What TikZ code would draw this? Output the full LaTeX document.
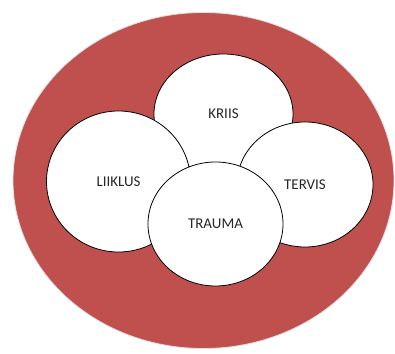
\documentclass[tikz,border=0pt]{standalone}
\usepackage{fontspec}
\setmainfont{Carlito}
\usetikzlibrary{shapes.geometric}
\definecolor{outerred}{HTML}{C0504D}
\definecolor{textcol}{HTML}{262626}
\tikzset{
  outer/.style={ellipse, fill=outerred, draw=black!12, line width=0.8bp, inner sep=0pt},
  topic/.style={ellipse, fill=white, draw=black, line width=0.8bp, inner sep=0pt,
    font=\fontsize{15}{18}\selectfont, text=textcol}
}
\begin{document}
\begin{tikzpicture}[x=1bp,y=1bp]
\useasboundingbox (0,0) rectangle (395,354);
\node[outer, minimum width=381bp, minimum height=336bp] (big) at (203.5,173.5) {};
\node[topic, minimum width=139bp, minimum height=120bp] (kriis) at (223.5,240) {KRIIS};
\node[topic, minimum width=144bp, minimum height=141bp] (liiklus) at (118.5,172.5) {LIIKLUS};
\node[topic, minimum width=136bp, minimum height=125bp] (tervis) at (305,169.5) {TERVIS};
\node[topic, minimum width=135bp, minimum height=124bp] (trauma) at (215.5,130) {TRAUMA};
\end{tikzpicture}
\end{document}
